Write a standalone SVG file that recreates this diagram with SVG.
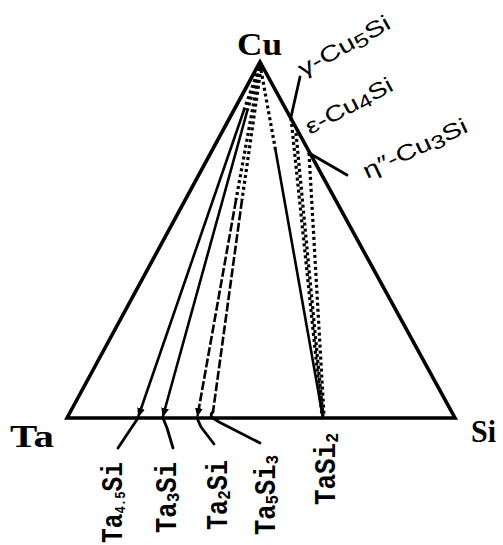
<svg xmlns="http://www.w3.org/2000/svg" width="503" height="545" viewBox="0 0 503 545">
<style>
.edge{fill:none;stroke:#000;stroke-width:3.6;stroke-linejoin:miter;stroke-miterlimit:10}
.tie{fill:none;stroke:#000;stroke-width:2.6;stroke-linecap:round}
.dot{fill:none;stroke:#000;stroke-width:3.2;stroke-dasharray:3 3}
.dash{fill:none;stroke:#000;stroke-width:2.6;stroke-dasharray:9 2.5}
.lead{fill:none;stroke:#000;stroke-width:2.8;stroke-linecap:round;stroke-linejoin:round}
.corner{font-family:"Liberation Serif","Times New Roman",serif;font-size:31px;font-weight:bold;fill:#000}
.ph{font-family:"Liberation Mono","Courier New",monospace;font-size:30px;font-weight:bold;fill:#000}
.cu{font-family:"Liberation Sans",Arial,sans-serif;font-size:22px;fill:#000}
.sub{font-size:19px}
.sub2{font-size:15px}
</style>
<defs>
<marker id="ah" markerWidth="9" markerHeight="8" refX="8" refY="4" orient="auto" markerUnits="userSpaceOnUse">
<path d="M0,0 L9,4 L0,8 Z" fill="#000"/>
</marker>
</defs>
<g id="connectors">
<polygon class="edge" points="67,418 260,62 455,418"/>
<path d="M255,70 L260,60 L265,70 Z" fill="#000"/>
<!-- Cu - Ta4.5Si -->
<line class="dot" x1="259" y1="68" x2="244" y2="110"/>
<line class="tie" x1="244" y1="110" x2="138.5" y2="416" marker-end="url(#ah)"/>
<!-- Cu - Ta3Si -->
<line class="dot" x1="260" y1="68" x2="247.5" y2="110"/>
<line class="tie" x1="247.5" y1="110" x2="163" y2="416" marker-end="url(#ah)"/>
<!-- Cu - Ta2Si -->
<line class="dot" x1="260" y1="68" x2="236" y2="200"/>
<line class="dash" x1="236" y1="200" x2="197.5" y2="416" marker-end="url(#ah)"/>
<!-- Cu - Ta5Si3 -->
<line class="dot" x1="261" y1="68" x2="242" y2="200"/>
<line class="dash" x1="242" y1="200" x2="213" y2="412"/>
<path class="lead" d="M213,412 q-3,2 -1,6"/>
<!-- Cu - TaSi2 -->
<line class="dot" x1="261" y1="70" x2="275.5" y2="150"/>
<line class="tie" x1="275.5" y1="150" x2="323" y2="418"/>
<!-- Cu silicides - TaSi2 -->
<line class="dot" x1="291" y1="118" x2="322" y2="416"/>
<line class="dot" x1="296" y1="133" x2="323" y2="416"/>
<line class="dot" x1="309" y1="153" x2="324" y2="416"/>
<!-- leaders -->
<line class="lead" x1="300" y1="77" x2="291" y2="117"/>
<line class="lead" x1="347" y1="175" x2="309" y2="153"/>
<polyline class="lead" points="138,418 118,448"/>
<polyline class="lead" points="163,418 167,428 173,448"/>
<polyline class="lead" points="197,418 201,427 214,444"/>
<polyline class="lead" points="213,418 219,422 260,443"/>
</g>
<g id="Cu"><text class="corner" x="237" y="55" textLength="45" lengthAdjust="spacingAndGlyphs">Cu</text></g>
<g id="Ta"><text class="corner" x="10" y="447" textLength="44" lengthAdjust="spacingAndGlyphs">Ta</text></g>
<g id="Si"><text class="corner" x="471" y="442" textLength="25" lengthAdjust="spacingAndGlyphs">Si</text></g>
<g id="gamma-Cu5Si"><text class="cu" transform="translate(303,77) rotate(-29)" textLength="102" lengthAdjust="spacingAndGlyphs">γ-Cu<tspan class="sub" dy="3">5</tspan><tspan dy="-3">Si</tspan></text></g>
<g id="eps-Cu4Si"><text class="cu" transform="translate(310,135) rotate(-28)" textLength="96" lengthAdjust="spacingAndGlyphs">ε-Cu<tspan class="sub" dy="3">4</tspan><tspan dy="-3">Si</tspan></text></g>
<g id="eta-Cu3Si"><text class="cu" transform="translate(367,179) rotate(-25)" textLength="113" lengthAdjust="spacingAndGlyphs">η″-Cu<tspan class="sub" dy="3">3</tspan><tspan dy="-3">Si</tspan></text></g>
<g id="Ta4.5Si"><text class="ph" transform="translate(122,543) rotate(-90)" textLength="81" lengthAdjust="spacingAndGlyphs">Ta<tspan class="sub2" dy="3">4.5</tspan><tspan dy="-3">Si</tspan></text></g>
<g id="Ta3Si"><text class="ph" transform="translate(176,533) rotate(-90)" textLength="71" lengthAdjust="spacingAndGlyphs">Ta<tspan class="sub" dy="3">3</tspan><tspan dy="-3">Si</tspan></text></g>
<g id="Ta2Si"><text class="ph" transform="translate(227,530) rotate(-90)" textLength="70" lengthAdjust="spacingAndGlyphs">Ta<tspan class="sub" dy="3">2</tspan><tspan dy="-3">Si</tspan></text></g>
<g id="Ta5Si3"><text class="ph" transform="translate(275,535) rotate(-90)" textLength="80" lengthAdjust="spacingAndGlyphs">Ta<tspan class="sub" dy="3">5</tspan><tspan dy="-3">Si</tspan><tspan class="sub" dy="3">3</tspan></text></g>
<g id="TaSi2"><text class="ph" transform="translate(335,505) rotate(-90)" textLength="72" lengthAdjust="spacingAndGlyphs">TaSi<tspan class="sub" dy="3">2</tspan></text></g>
</svg>
